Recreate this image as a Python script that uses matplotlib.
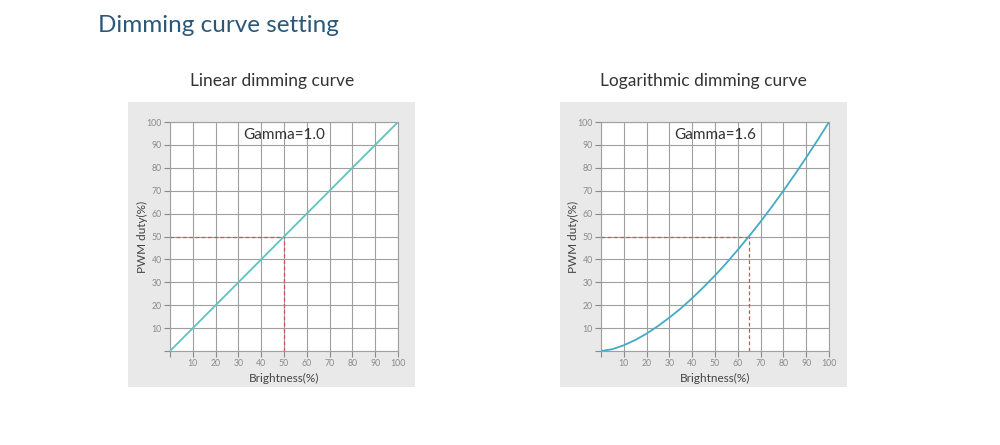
import matplotlib
matplotlib.use("Agg")
import matplotlib.pyplot as plt
from matplotlib.patches import Rectangle

# Data
brightness = [0, 5, 10, 15, 20, 25, 30, 35, 40, 45, 50, 55, 60, 65, 70, 75, 80, 85, 90, 95, 100]
linear_duty = [0, 5, 10, 15, 20, 25, 30, 35, 40, 45, 50, 55, 60, 65, 70, 75, 80, 85, 90, 95, 100]
log_duty = [0, 0.8, 2.5, 4.8, 7.6, 10.9, 14.6, 18.6, 23.1, 27.9, 33.0, 38.4, 44.2, 50.2, 56.5, 63.1, 70.0, 77.1, 84.5, 92.1, 100]
ticks = [0, 10, 20, 30, 40, 50, 60, 70, 80, 90, 100]
tick_labels = ["", "10", "20", "30", "40", "50", "60", "70", "80", "90", "100"]
titles = ["Linear dimming curve", "Logarithmic dimming curve"]
gammas = ["Gamma=1.0", "Gamma=1.6"]
marker_x = [50, 65]
marker_y = [50, 50]

plt.rcParams['font.family'] = ['Lato', 'DejaVu Sans']

fig = plt.figure(figsize=(10, 4.45), dpi=100)
fig.patch.set_facecolor("white")

fig.text(0.098, 0.942, "Dimming curve setting", fontsize=17.5, color="#2b5878",
         ha="left", va="center")

panel_lefts = [0.128, 0.560]
axes_lefts = [0.170, 0.601]
series = [linear_duty, log_duty]
line_colors = ["#5ec4c0", "#45aac4"]

for i in range(2):
    fig.patches.append(Rectangle((panel_lefts[i], 0.1303), 0.287, 0.6404,
                                 transform=fig.transFigure, facecolor="#e9e9e9",
                                 edgecolor="none", zorder=-5))
    cx = axes_lefts[i] + 0.102
    fig.text(cx, 0.818, titles[i], fontsize=12.5, color="#333333", ha="center", va="center")

    ax = fig.add_axes([axes_lefts[i], 0.2112, 0.228, 0.5146])
    ax.set_zorder(2)
    ax.set_facecolor("white")
    ax.set_xlim(0, 100)
    ax.set_ylim(0, 100)
    ax.set_xticks(ticks)
    ax.set_yticks(ticks)
    ax.set_xticklabels(tick_labels)
    ax.set_yticklabels(tick_labels)
    ax.grid(True, color="#a0a0a0", linewidth=0.8)
    ax.set_axisbelow(True)
    for s in ax.spines.values():
        s.set_color("#a0a0a0")
        s.set_linewidth(0.8)
    ax.tick_params(axis="both", length=4, width=0.8, color="#8a8a8a",
                   labelsize=6.3, labelcolor="#8a8a8a", pad=2)
    ax.plot(brightness, series[i], color=line_colors[i], linewidth=1.3, zorder=3)
    ax.plot([0, marker_x[i]], [marker_y[i], marker_y[i]], color="#d0505e",
            linestyle=(0, (3, 2)), linewidth=0.9, zorder=2)
    ax.plot([marker_x[i], marker_x[i]], [0, marker_y[i]], color="#d0505e",
            linestyle=(0, (3, 2)), linewidth=0.9, zorder=2)
    ax.text(50, 94.5, gammas[i], fontsize=11, color="#333333", ha="center", va="center")
    ax.set_xlabel("Brightness(%)", fontsize=8.5, color="#444444", labelpad=3)
    ax.set_ylabel("PWM duty(%)", fontsize=8.5, color="#444444", labelpad=-1)

fig.savefig("out.png", dpi=100, facecolor="white")
